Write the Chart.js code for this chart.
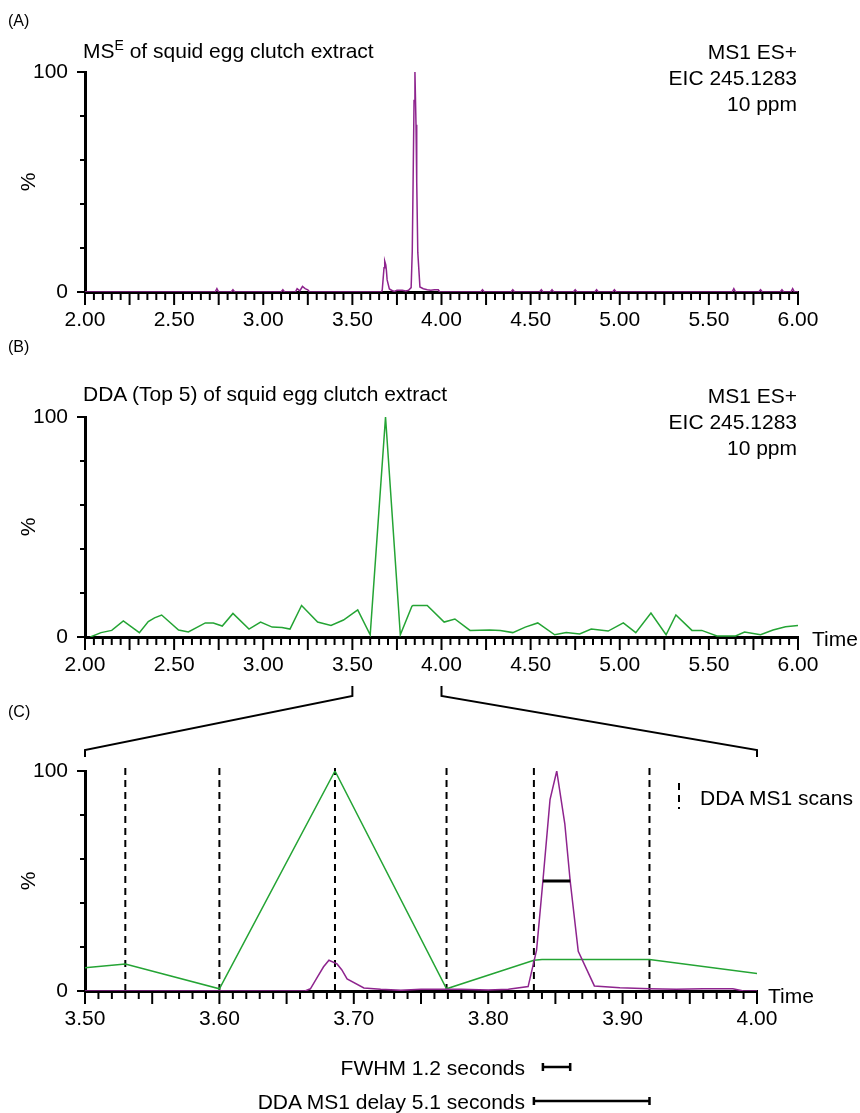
<!DOCTYPE html>
<html>
<head>
<meta charset="utf-8">
<script src="https://cdn.jsdelivr.net/npm/chart.js@4.4.0/dist/chart.umd.min.js"></script>
<style>
  html, body { margin: 0; padding: 0; background: #fff; }
  body { width: 860px; height: 1113px; position: relative; overflow: hidden;
         font-family: "Liberation Sans", Arial, Helvetica, sans-serif; color: #000; }
  canvas { position: absolute; left: 0; }
  .t { position: absolute; white-space: nowrap; transform: translateY(-50%); line-height: 1; font-size: 21px; }
  .r { text-align: right; right: 63px; }
  .tag { font-size: 16px; left: 8px; }
</style>
</head>
<body>
<canvas id="chartA" width="860" height="345" style="top:0px"></canvas>
<canvas id="chartB" width="860" height="345" style="top:345px"></canvas>
<canvas id="chartC" width="860" height="443" style="top:670px"></canvas>

<div class="t tag" style="top:21px">(A)</div>
<div class="t" style="left:83px; top:50px">MS<span style="font-size:14px; position:relative; top:-8px">E</span> of squid egg clutch extract</div>
<div class="t r" style="top:51px">MS1 ES+</div>
<div class="t r" style="top:77px">EIC 245.1283</div>
<div class="t r" style="top:103px">10 ppm</div>

<div class="t tag" style="top:347px">(B)</div>
<div class="t" style="left:83px; top:393px">DDA (Top 5) of squid egg clutch extract</div>
<div class="t r" style="top:395px">MS1 ES+</div>
<div class="t r" style="top:421px">EIC 245.1283</div>
<div class="t r" style="top:447px">10 ppm</div>
<div class="t" style="left:812px; top:638px">Time</div>

<div class="t tag" style="top:712px">(C)</div>
<svg style="position:absolute; left:674px; top:782px" width="10" height="28">
  <line x1="5" y1="1" x2="5" y2="27" stroke="#000" stroke-width="2" stroke-dasharray="7,5"/>
</svg>
<div class="t" style="left:700px; top:797px">DDA MS1 scans</div>
<div class="t" style="left:768px; top:995px">Time</div>

<div class="t" style="right:335px; top:1067px">FWHM 1.2 seconds</div>
<div class="t" style="right:335px; top:1101px">DDA MS1 delay 5.1 seconds</div>

<script>
// MS^E extracted ion chromatogram (purple), retention time in minutes / relative intensity %
const mseTimes = [
  2.00, 2.73, 2.74, 2.75, 2.82, 2.83, 2.84, 3.10, 3.11, 3.12,
  3.18, 3.19, 3.205, 3.22, 3.235, 3.25, 3.26,
  3.6637, 3.6677, 3.673, 3.6775, 3.6815, 3.6875, 3.691, 3.695, 3.7075,
  3.72, 3.735, 3.75, 3.765, 3.78, 3.80, 3.815,
  3.8297, 3.836, 3.8407, 3.846, 3.851, 3.857, 3.861, 3.867, 3.879, 3.898,
  3.92, 3.94, 3.96, 3.982, 3.99,
  4.22, 4.23, 4.24, 4.39, 4.40, 4.41, 4.55, 4.56, 4.57, 4.61, 4.62, 4.63,
  4.74, 4.75, 4.76, 4.86, 4.87, 4.88, 4.96, 4.97, 4.98,
  5.63, 5.64, 5.65, 5.78, 5.79, 5.80, 5.90, 5.91, 5.92, 5.96, 5.97, 5.98, 6.00
];
const mseIntensity = [
  0, 0, 1.5, 0, 0, 1, 0, 0, 1, 0,
  0, 1.5, 0.5, 2.5, 1.5, 1, 0,
  0, 1, 6.4, 11, 14, 12.3, 9.7, 5.5, 1.4,
  0.8, 0.3, 0.8, 0.8, 0.8, 0.5, 0.8,
  2, 18.6, 50, 87, 100, 76, 50, 18, 2.3, 1.5,
  1, 0.8, 1, 1, 0,
  0, 1, 0, 0, 1, 0, 0, 1, 0, 0, 1, 0,
  0, 1, 0, 0, 1, 0, 0, 1, 0,
  0, 1.5, 0, 0, 1, 0, 0, 1, 0, 0, 1.5, 0, 0
];

// DDA (top 5) MS1 scans (green)
const ddaTimes = [
  2.03, 2.09, 2.15, 2.215, 2.305, 2.355, 2.39, 2.43, 2.525, 2.58,
  2.675, 2.72, 2.77, 2.83, 2.92, 2.985, 3.05, 3.105, 3.15, 3.215,
  3.305, 3.38, 3.45, 3.53, 3.60, 3.686, 3.769, 3.834, 3.84, 3.92,
  4.015, 4.075, 4.16, 4.27, 4.33, 4.40, 4.47, 4.54, 4.635, 4.70,
  4.775, 4.84, 4.935, 5.02, 5.09, 5.175, 5.26, 5.315, 5.405, 5.46,
  5.545, 5.65, 5.70, 5.79, 5.86, 5.93, 6.00
];
const ddaIntensity = [
  0, 2, 3, 7.3, 2, 7, 8.7, 10, 3.2, 2.3,
  6.4, 6.4, 5, 10.7, 3.6, 6.8, 4.5, 4.3, 3.6, 14.3,
  6.8, 5.2, 7.7, 12.3, 1, 100, 1, 14, 14.3, 14.3,
  6.8, 8.2, 3, 3.2, 3, 2, 4.5, 6.4, 1, 2,
  1.4, 3.6, 2.7, 6.4, 2, 10.9, 1, 10, 3, 3,
  0.5, 0.5, 2.3, 1, 3.2, 4.7, 5.2
];

// zoomed panel annotations
const ddaScanTimes = [3.53, 3.60, 3.686, 3.769, 3.834, 3.92];
const fwhmRange = [3.8407, 3.861];   // at half height (50 %)
const delayRange = [3.834, 3.92];    // between two DDA MS1 scans

const PURPLE = 'rgb(142, 36, 142)';
const GREEN = 'rgb(36, 164, 52)';
const FONT = { family: '"Liberation Sans", Arial, Helvetica, sans-serif', size: 21 };

function near(v, step) {
  const r = v / step;
  return Math.abs(r - Math.round(r)) < 1e-6;
}

function toPoints(xs, ys) {
  return xs.map((x, i) => ({ x: x, y: ys[i] }));
}

// tick marks drawn outside the axes, long ones on major steps
const tickMarks = {
  id: 'tickMarks',
  afterDraw(chart, args, opts) {
    const ctx = chart.ctx;
    const area = chart.chartArea;
    const xs = chart.scales.x, ys = chart.scales.y;
    ctx.save();
    ctx.strokeStyle = '#000';
    ctx.lineWidth = 2;
    xs.ticks.forEach(t => {
      const px = xs.getPixelForValue(t.value);
      const len = near(t.value, opts.xMajor) ? 13 : 8;
      ctx.beginPath();
      ctx.moveTo(px, area.bottom);
      ctx.lineTo(px, area.bottom + len);
      ctx.stroke();
    });
    ys.ticks.forEach(t => {
      const py = ys.getPixelForValue(t.value);
      const len = near(t.value, 50) ? 8 : 5;
      ctx.beginPath();
      ctx.moveTo(area.left, py);
      ctx.lineTo(area.left - len, py);
      ctx.stroke();
    });
    ctx.restore();
  }
};

function panel(id, datasets, cfg, extraPlugins) {
  return new Chart(document.getElementById(id), {
    type: 'line',
    data: { datasets: datasets },
    options: {
      responsive: false,
      animation: false,
      devicePixelRatio: 1,
      layout: { padding: { top: cfg.top, right: cfg.right, left: 0, bottom: 0 } },
      plugins: {
        legend: { display: false },
        tooltip: { enabled: false },
        tickMarks: { xMajor: cfg.xMajor }
      },
      elements: {
        point: { radius: 0 },
        line: { tension: 0, borderWidth: 1.5 }
      },
      scales: {
        x: {
          type: 'linear',
          min: cfg.xMin,
          max: cfg.xMax,
          grid: { display: true, drawOnChartArea: false, drawTicks: false },
          border: { display: true, color: '#000', width: 3 },
          afterFit: s => { s.height = cfg.height - cfg.bottom; },
          ticks: {
            stepSize: cfg.xStep,
            autoSkip: false,
            maxRotation: 0,
            padding: 16,
            color: '#000',
            font: FONT,
            callback: v => near(v, cfg.xLabel) ? v.toFixed(2) : ''
          }
        },
        y: {
          min: 0,
          max: 100,
          grid: { display: true, drawOnChartArea: false, drawTicks: false },
          border: { display: true, color: '#000', width: 3 },
          afterFit: s => { s.width = 85; },
          title: { display: true, text: '%', color: '#000', font: FONT, padding: { top: 17, bottom: 0 } },
          ticks: {
            stepSize: 10,
            padding: 17,
            color: '#000',
            font: FONT,
            callback: v => (v === 0 || v === 100) ? String(v) : ''
          }
        }
      }
    },
    plugins: [tickMarks].concat(extraPlugins || [])
  });
}

const wideCfg = { xMin: 2, xMax: 6, xStep: 0.05, xMajor: 0.25, xLabel: 0.5,
                  top: 72, right: 62, height: 345, bottom: 292 };

const chartA = panel('chartA', [
  { data: toPoints(mseTimes, mseIntensity), borderColor: PURPLE }
], wideCfg);

const chartB = panel('chartB', [
  { data: toPoints(ddaTimes, ddaIntensity), borderColor: GREEN }
], wideCfg);

// zoom bracket from panel B, and the FWHM / delay scale bars under panel C
const guides = {
  id: 'guides',
  afterDraw(chart) {
    const ctx = chart.ctx;
    const xs = chart.scales.x;
    const bx = chartB.scales.x;
    const offC = 670;
    ctx.save();
    ctx.strokeStyle = '#000';
    ctx.lineWidth = 2;
    const topY = 686 - offC, kneeY = 696 - offC, lowY = 750 - offC, endY = 757 - offC;
    [[3.5, xs.min], [4.0, xs.max]].forEach(([bv, cv]) => {
      const ux = bx.getPixelForValue(bv);
      const lx = xs.getPixelForValue(cv);
      ctx.beginPath();
      ctx.moveTo(ux, topY);
      ctx.lineTo(ux, kneeY);
      ctx.lineTo(lx, lowY);
      ctx.lineTo(lx, endY);
      ctx.stroke();
    });
    ctx.lineWidth = 2.5;
    [[fwhmRange, 1067], [delayRange, 1101]].forEach(([rng, yAbs]) => {
      const y = yAbs - offC;
      const x1 = xs.getPixelForValue(rng[0]);
      const x2 = xs.getPixelForValue(rng[1]);
      ctx.beginPath();
      ctx.moveTo(x1, y); ctx.lineTo(x2, y);
      ctx.moveTo(x1, y - 4); ctx.lineTo(x1, y + 4);
      ctx.moveTo(x2, y - 4); ctx.lineTo(x2, y + 4);
      ctx.stroke();
    });
    ctx.restore();
  }
};

const scanLines = ddaScanTimes.map(t => ({
  data: [{ x: t, y: 0 }, { x: t, y: 102 }],
  borderColor: '#000',
  borderWidth: 2,
  borderDash: [7, 5],
  clip: false
}));

const chartC = panel('chartC', [
  { data: [{ x: fwhmRange[0], y: 50 }, { x: fwhmRange[1], y: 50 }], borderColor: '#000', borderWidth: 3 },
  { data: toPoints(mseTimes, mseIntensity), borderColor: PURPLE },
  { data: toPoints(ddaTimes, ddaIntensity), borderColor: GREEN }
].concat(scanLines), {
  xMin: 3.5, xMax: 4.0, xStep: 0.01, xMajor: 0.05, xLabel: 0.1,
  top: 101, right: 103, height: 443, bottom: 321
}, [guides]);
</script>
</body>
</html>
